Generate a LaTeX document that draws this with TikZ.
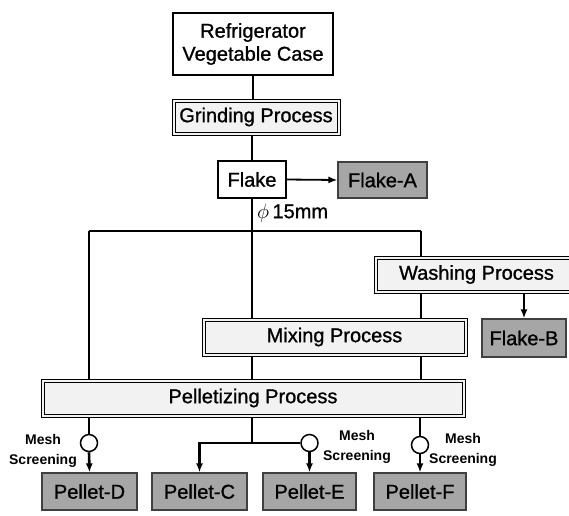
\documentclass[tikz,border=0pt]{standalone}
\usepackage{fontspec}
\setmainfont{Liberation Sans}[FakeBold=1.0]
\newfontfamily\notefont{Liberation Sans Bold}
\usetikzlibrary{arrows.meta,backgrounds}

\begin{document}
\begin{tikzpicture}[x=1pt,y=-1pt,
  every node/.style={font=\fontsize{20}{23}\selectfont, inner sep=0pt, align=center},
  plainbox/.style={draw=black, line width=1.2pt, fill=white},
  procbox/.style={draw=black, fill=black!5, line width=0.9pt,
    path picture={\draw[line width=0.6pt]
      ([shift={(2.8pt,-2.8pt)}]path picture bounding box.north west) rectangle
      ([shift={(-2.8pt,2.8pt)}]path picture bounding box.south east);}},
  outbox/.style={draw=black!75, line width=1.2pt, fill=black!35},
  flow/.style={line width=2.6pt, draw=black},
  arr/.style={flow, -{Latex[length=9pt,width=7pt]}},
  sieve/.style={circle, draw=black, line width=1.5pt, fill=white, minimum size=17pt},
  note/.style={font=\notefont\fontsize{14}{20}\selectfont},
]
\useasboundingbox (0,0) rectangle (569,515);

% boxes of the process chain
\node[plainbox, minimum width=160pt, minimum height=62pt] (refr) at (253,44) {Refrigerator\\Vegetable Case};
\node[procbox, minimum width=168pt, minimum height=36pt] (grind) at (256,117) {Grinding Process};
\node[plainbox, minimum width=68pt, minimum height=37pt] (flake) at (252,179.5) {Flake};
\node[outbox, minimum width=89pt, minimum height=36pt] (flakeA) at (382.5,180) {Flake-A};
\node[anchor=west] (dia) at (257,213) {$\phi$\,15mm};
\node[procbox, minimum width=211pt, minimum height=37pt] (wash) at (479.5,274.5) {\hspace*{-3pt}Washing Process\hspace*{3pt}};
\node[procbox, minimum width=265pt, minimum height=38pt] (mix) at (334.5,337) {Mixing Process};
\node[outbox, minimum width=84pt, minimum height=38pt] (flakeB) at (524,338) {Flake-B};
\node[procbox, minimum width=424pt, minimum height=38pt] (pell) at (253,398) {Pelletizing Process};

% products
\node[outbox, minimum width=95pt, minimum height=37pt] (pelD) at (89.5,491.5) {Pellet-D};
\node[outbox, minimum width=95pt, minimum height=37pt] (pelC) at (199.5,491.5) {Pellet-C};
\node[outbox, minimum width=93pt, minimum height=37pt] (pelE) at (309.5,491.5) {Pellet-E};
\node[outbox, minimum width=92pt, minimum height=37pt] (pelF) at (420,491.5) {Pellet-F};

% screening points
\node[sieve] (sD) at (89,443) {};
\node[sieve] (sE) at (309.5,443) {};
\node[sieve] (sF) at (420,445) {};
\node[note] (mD) at (43,451) {Mesh\\Screening};
\node[note] (mE) at (357,447) {Mesh\\Screening};
\node[note] (mF) at (463,450) {Mesh\\Screening};

% junctions
\coordinate (jl) at (89,231);
\coordinate (jm) at (252,231);
\coordinate (jr) at (421,231);
\coordinate (jb) at (252,443);

\begin{scope}[on background layer]
% upper flow
\draw[flow] (refr.south) -- (refr.south |- grind.north);
\draw[flow] (flake.north |- grind.south) -- (flake.north);
\draw[flow] (flake.south) -- (jm);
\draw[arr, line width=1.8pt] (flake.east) -- (flakeA.west);
\draw[flow] (jl) -- (jr);
\draw[flow] (jl) -- (jl |- pell.north);
\draw[flow] (jm) -- (jm |- mix.north);
\draw[flow] (jr) -- (jr |- wash.north);
\draw[flow] (jr |- wash.south) -- (jr |- mix.north);
\draw[arr] (flakeB.north |- wash.south) -- (flakeB.north);
\draw[flow] (jm |- mix.south) -- (jm |- pell.north);
\draw[flow] (jr |- mix.south) -- (jr |- pell.north);

% lower flow
\draw[flow] (sD |- pell.south) -- (sD.north);
\draw[arr] (sD.south) -- (pelD.north);
\draw[flow] (jb |- pell.south) -- (jb);
\draw[flow] (jb) -- (sE.west);
\draw[arr] (jb) -| (pelC.north);
\draw[arr] (sE.south) -- (pelE.north);
\draw[flow] (sF |- pell.south) -- (sF.north);
\draw[arr] (sF.south) -- (pelF.north);
\end{scope}
\end{tikzpicture}
\end{document}
